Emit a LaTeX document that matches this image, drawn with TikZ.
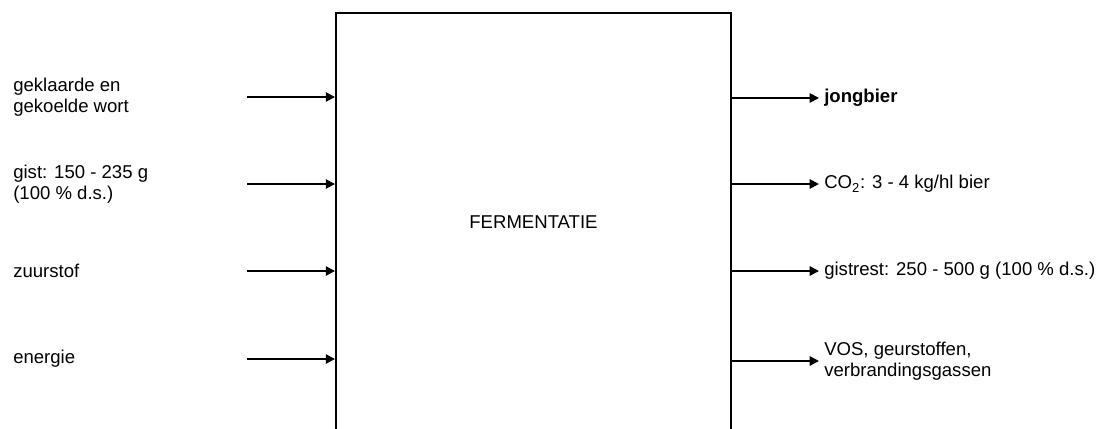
\documentclass[tikz,border=0pt]{standalone}
\usepackage{fontspec}
\setmainfont{Liberation Sans}
\usetikzlibrary{positioning,arrows.meta,calc}
\tikzset{
  procbox/.style={draw,line width=1.3pt,minimum width=9.875cm,minimum height=10.45cm,
            inner sep=0pt,font=\fontsize{13.2}{15}\selectfont},
  flowlabel/.style={anchor=west,align=left,inner sep=0pt,
            font=\fontsize{13.2}{15}\selectfont},
  flow/.style={-{Triangle[length=6.6pt,width=6.6pt]},line width=1.3pt},
}

\begin{document}
\begin{tikzpicture}[x=0.025cm,y=-0.025cm]
  \useasboundingbox (0,0) rectangle (1102,428);
  % process block
  \node[procbox] (ferm) at (533.5,222) {FERMENTATIE};
  % inputs (left)
  \node[flowlabel] (in1) at (13,97)  {geklaarde en\\gekoelde wort};
  \node[flowlabel] (in2) at (13,184) {gist: 150 - 235 g\\(100 \% d.s.)};
  \node[flowlabel] (in3) at (13,271) {zuurstof};
  \node[flowlabel] (in4) at (13,359) {energie};
  \coordinate (s1) at (247,97);
  \coordinate (s2) at (247,184);
  \coordinate (s3) at (247,271);
  \coordinate (s4) at (247,359);
  \foreach \i in {1,...,4}
    \draw[flow] (s\i) -- (s\i -| ferm.west);
  % outputs (right)
  \coordinate (e1) at (819,98);
  \coordinate (e2) at (819,184);
  \coordinate (e3) at (819,271);
  \coordinate (e4) at (819,361);
  \node[flowlabel,font=\fontsize{13.2}{15}\selectfont\bfseries] (out1) at (824,98) {jongbier};
  \node[flowlabel] (out2) at (824,184) {CO\textsubscript{2}: 3 - 4 kg/hl bier};
  \node[flowlabel] (out3) at (824,271) {gistrest: 250 - 500 g (100 \% d.s.)};
  \node[flowlabel] (out4) at (824,361) {VOS, geurstoffen,\\verbrandingsgassen};
  \foreach \i in {1,...,4}
    \draw[flow] (e\i -| ferm.east) -- (e\i);
\end{tikzpicture}
\end{document}
